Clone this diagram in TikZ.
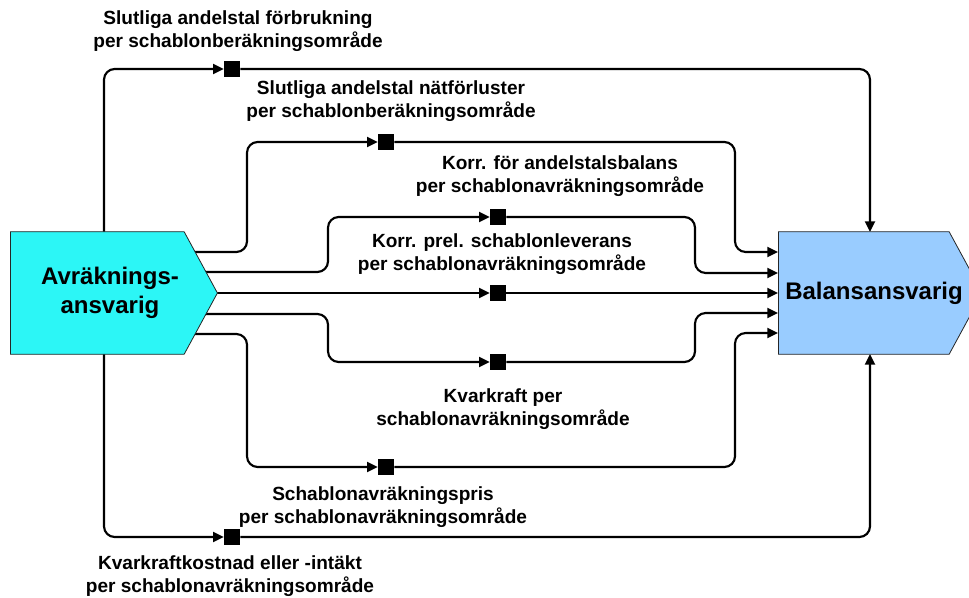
\documentclass[tikz,border=0pt]{standalone}
\usepackage{fontspec}
\setmainfont{Liberation Sans}
\usetikzlibrary{shapes.symbols, arrows.meta, calc, backgrounds}
\definecolor{avrcyan}{HTML}{2CF6F6}
\definecolor{balblue}{HTML}{99CCFF}

\begin{document}
\begin{tikzpicture}[x=0.75pt, y=-0.75pt,
  party/.style={signal, signal to=east, signal pointer angle=123, draw=black!85, line width=0.6pt,
    minimum height=92pt, inner sep=0pt},
  partyname/.style={align=center, inner sep=0pt, font=\bfseries\fontsize{18}{21.75}\selectfont},
  datapoint/.style={fill=black, inner sep=0pt, minimum size=12pt},
  flow/.style={line width=1.6pt, rounded corners=8pt},
  into/.style={flow, -{Triangle[length=8pt, width=7.5pt]}},
  msg/.style={align=center, inner sep=0pt, font=\bfseries\fontsize{14.3}{17}\selectfont}]
\useasboundingbox (0,0) rectangle (969,598);

\node[party, fill=avrcyan, minimum width=155.25pt, anchor=west] (avr) at (10,293) {};
\node[party, fill=balblue, minimum width=153pt, anchor=west] (bal) at (778,293) {};
\node[partyname] (avrname) at ($(avr.west)+(100,0)$) {Avräknings-\\ansvarig};
\node[partyname] (balname) at ($(bal.west)+(96,0)$) {Balansansvarig};

\foreach \n/\x/\y in {1/232/69, 2/386/142, 3/498/217, 4/498/293, 5/498/362, 6/386/467, 7/232/537}
  \node[datapoint] (m\n) at (\x,\y) {};

\begin{scope}[on background layer]
\draw[into] ($(avr.west)+(94,0)$) -- (104,69) -- (m1);
\draw[into] (m1) -- (870,69) -- ($(bal.west)+(92,-61)$);
\draw[into] ($(avr.west)+(140,-41)$) -- (247,252) -- (247,142) -- (m2);
\draw[into] (m2) -- (735,142) -- (735,252) -- ($(bal.west)+(0,-41)$);
\draw[into] ($(avr.west)+(140,-21)$) -- (328,272) -- (328,217) -- (m3);
\draw[into] (m3) -- (695,217) -- (695,273) -- ($(bal.west)+(0,-20)$);
\draw[into] ($(avr.west)+(140,0)$) -- (m4);
\draw[into] (m4) -- (bal.west);
\draw[into] ($(avr.west)+(140,21)$) -- (328,314) -- (328,362) -- (m5);
\draw[into] (m5) -- (695,362) -- (695,313) -- ($(bal.west)+(0,20)$);
\draw[into] ($(avr.west)+(140,41)$) -- (247,334) -- (247,467) -- (m6);
\draw[into] (m6) -- (735,467) -- (735,333) -- ($(bal.west)+(0,40)$);
\draw[into] ($(avr.west)+(94,0)$) -- (104,537) -- (m7);
\draw[into] (m7) -- (870,537) -- ($(bal.west)+(92,61)$);
\end{scope}

\node[msg] (t1) at (238,31) {Slutliga andelstal förbrukning\\per schablonberäkningsområde};
\node[msg] (t2) at (391,101) {Slutliga andelstal nätförluster\\per schablonberäkningsområde};
\node[msg] (t3) at (560,176) {Korr. för andelstalsbalans\\per schablonavräkningsområde};
\node[msg] (t4) at (502,254) {Korr. prel. schablonleverans\\per schablonavräkningsområde};
\node[msg] (t5) at (503,409) {Kvarkraft per\\schablonavräkningsområde};
\node[msg] (t6) at (383,507) {Schablonavräkningspris\\per schablonavräkningsområde};
\node[msg] (t7) at (230,576) {Kvarkraftkostnad eller -intäkt\\per schablonavräkningsområde};
\end{tikzpicture}
\end{document}
